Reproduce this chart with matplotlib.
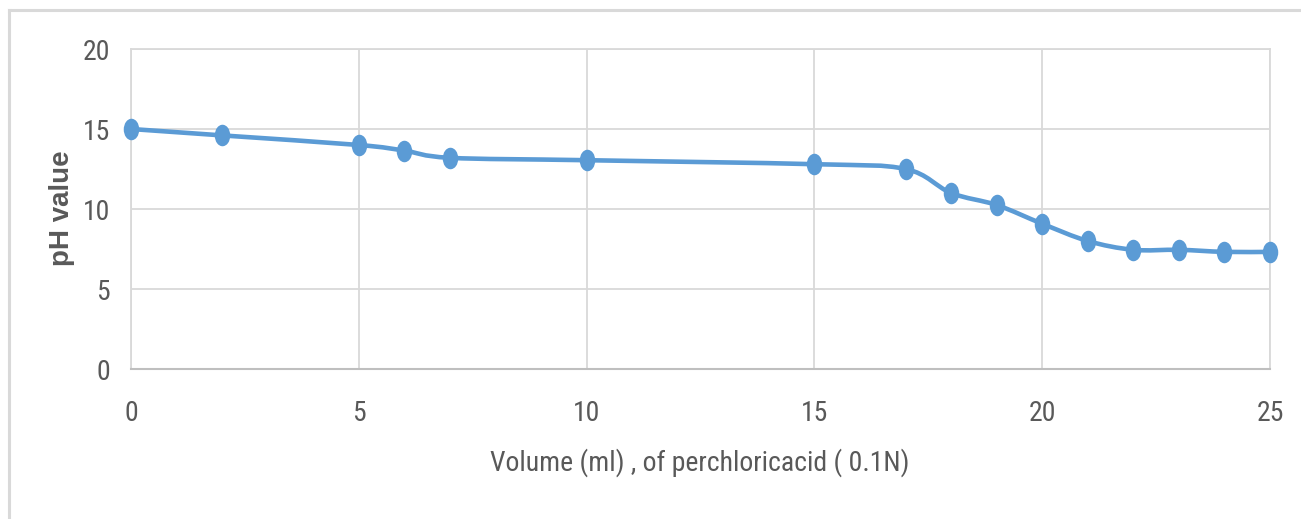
import numpy as np
import matplotlib.pyplot as plt
from matplotlib import font_manager
from matplotlib.path import Path
from matplotlib.patches import PathPatch
from matplotlib.lines import Line2D

# titration data
volume = [0, 2, 5, 6, 7, 10, 15, 17, 18, 19, 20, 21, 22, 23, 24, 25]
ph = [15.0, 14.6, 14.0, 13.65, 13.2, 13.05, 12.8, 12.5, 11.0, 10.25, 9.08, 8.0, 7.45, 7.45, 7.32, 7.32]
x_ticks = [0, 5, 10, 15, 20, 25]
y_ticks = [0, 5, 10, 15, 20]

blue = '#5b9bd5'
grid_c = '#d9d9d9'
txt_c = '#595959'

# pick the narrowest sans available (reference uses a condensed Calibri look)
installed = {f.name for f in font_manager.fontManager.ttflist}
narrow_fam = 'Liberation Sans'
narrow_stretch = 'normal'
for fam in ['Liberation Sans Narrow', 'Roboto Condensed', 'Open Sans Condensed', 'DejaVu Sans Condensed']:
    if fam in installed:
        narrow_fam = fam
        break
else:
    for f in font_manager.fontManager.ttflist:
        if f.name == 'DejaVu Sans' and 'Condensed' in f.fname:
            narrow_fam = 'DejaVu Sans'
            narrow_stretch = 'condensed'
            break
narrow = [narrow_fam, 'DejaVu Sans']


def smooth_path(xs, ys):
    # excel style smoothed line: bezier segments, catmull-rom control points
    pts = np.column_stack([xs, ys]).astype(float)
    verts = [pts[0]]
    codes = [Path.MOVETO]
    n = len(pts)
    for i in range(n - 1):
        p0 = pts[i - 1] if i > 0 else pts[i]
        p1 = pts[i]
        p2 = pts[i + 1]
        p3 = pts[i + 2] if i + 2 < n else pts[i + 1]
        c1 = p1 + (p2 - p0) / 6.0
        c2 = p2 - (p3 - p1) / 6.0
        verts += [c1, c2, p2]
        codes += [Path.CURVE4] * 3
    return Path(verts, codes)


W, H = 1301, 519
fig = plt.figure(figsize=(W / 100, H / 100), dpi=100)
ax = fig.add_axes([131 / W, (H - 369) / H, (1270 - 131) / W, (369 - 49) / H])

ax.set_xlim(0, 25)
ax.set_ylim(0, 20)
ax.set_xticks(x_ticks)
ax.set_yticks(y_ticks)
ax.grid(True, color=grid_c, linewidth=1.3)
ax.set_axisbelow(True)
for s in ['top', 'left', 'right']:
    ax.spines[s].set_color(grid_c)
    ax.spines[s].set_linewidth(1.3)
ax.spines['bottom'].set_color('#bfbfbf')
ax.spines['bottom'].set_linewidth(1.5)
ax.tick_params(length=0, colors=txt_c, labelsize=20)
ax.tick_params(axis='y', pad=15)
ax.tick_params(axis='x', pad=22)
for lab in ax.get_xticklabels() + ax.get_yticklabels():
    lab.set_family(narrow)
    lab.set_stretch(narrow_stretch)

ax.add_patch(PathPatch(smooth_path(volume, ph), facecolor='none', edgecolor=blue,
                       linewidth=3.3, capstyle='round', joinstyle='round', zorder=3))

# tall oval markers
circ = Path.unit_circle()
oval = Path(circ.vertices * np.array([0.72, 1.0]), circ.codes)
ax.plot(volume, ph, linestyle='none', marker=oval, markersize=15.5,
        color=blue, markeredgewidth=0, zorder=4, clip_on=False)

fig.text(700 / W, 1 - 463 / H, 'Volume (ml) , of perchloricacid ( 0.1N)', ha='center', va='center',
         fontsize=20, color=txt_c, family=narrow, stretch=narrow_stretch)
fig.text(62 / W, 1 - 208 / H, 'pH value', rotation=90, ha='center', va='center',
         fontsize=20, fontweight='bold', color=txt_c, family=['Liberation Sans', 'DejaVu Sans'])

# outer chart frame (top and left edges visible)
fig.add_artist(Line2D([9 / W, 1.0], [1 - 10 / H, 1 - 10 / H], transform=fig.transFigure,
                      color=grid_c, linewidth=2.2))
fig.add_artist(Line2D([9 / W, 9 / W], [0, 1 - 10 / H], transform=fig.transFigure,
                      color=grid_c, linewidth=2.2))

fig.savefig('out.png', dpi=100, facecolor='white')
